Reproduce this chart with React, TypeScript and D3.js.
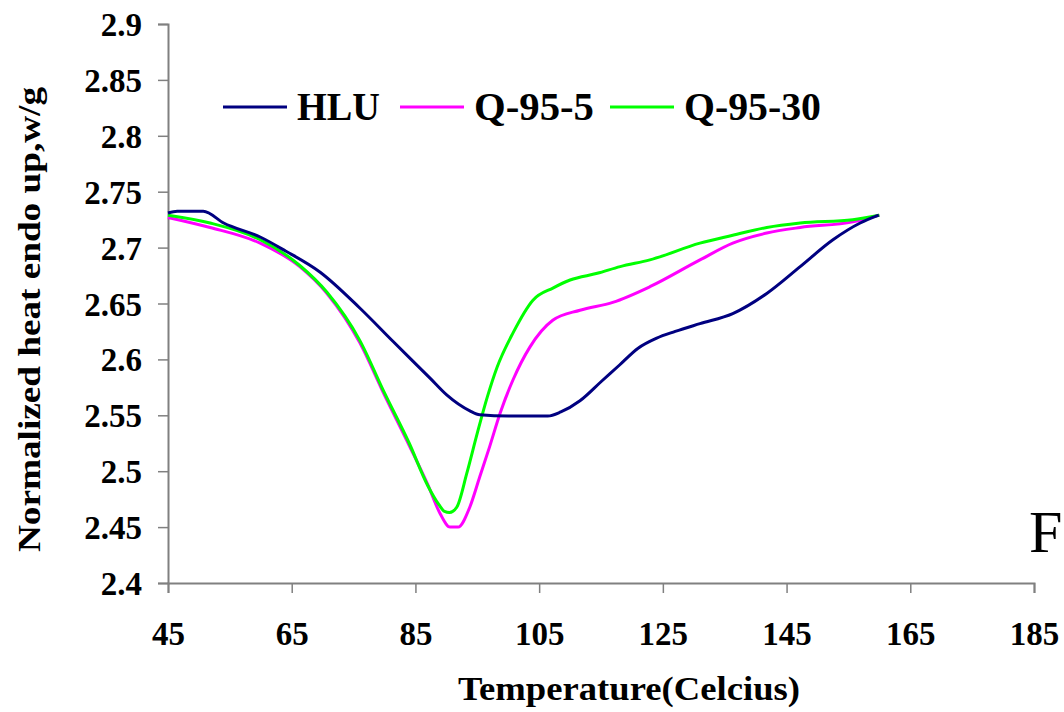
import React, { useEffect, useRef } from "react";
import * as d3 from "d3";

// temperatures (Celcius) and normalized heat flow
const hluTemp = [45, 46.5, 50.7, 54, 59.9, 64, 69.6, 76, 81.4, 87.4, 90.1, 93.8, 95.4, 100, 106.4, 108.5, 111.6, 115, 118, 121, 124, 127, 131, 136.3, 141.8, 147.2, 152.5, 156.9, 159.9];
const hluVal = [2.731, 2.7325, 2.7325, 2.722, 2.7095, 2.697, 2.678, 2.646, 2.616, 2.583, 2.568, 2.554, 2.5505, 2.5494, 2.5494, 2.553, 2.563, 2.58, 2.595, 2.61, 2.619, 2.625, 2.632, 2.641, 2.659, 2.683, 2.707, 2.722, 2.729];

const q5Temp = [45, 51.8, 59.9, 66.3, 70.7, 76, 80, 84, 87, 89, 90.6, 91.9, 93.8, 95.4, 97, 98.7, 100.8, 103.5, 107.2, 111.6, 116.9, 122.9, 131, 136.3, 141.8, 147.2, 155.7, 160];
const q5Val = [2.727, 2.718, 2.704, 2.683, 2.659, 2.615, 2.568, 2.523, 2.488, 2.462, 2.45, 2.45, 2.468, 2.495, 2.522, 2.552, 2.582, 2.611, 2.635, 2.644, 2.651, 2.665, 2.689, 2.704, 2.713, 2.718, 2.723, 2.729];

const q30Temp = [45, 51.8, 59.9, 66.3, 70.7, 76, 80, 84, 87, 88.8, 89.7, 90.5, 91.7, 93.3, 95, 96.6, 98.2, 100.8, 104, 107.3, 110, 114.4, 118.1, 122.9, 131, 136.3, 141.8, 147.2, 155.7, 160];
const q30Val = [2.729, 2.722, 2.707, 2.684, 2.66, 2.617, 2.57, 2.525, 2.487, 2.47, 2.464, 2.463, 2.468, 2.498, 2.534, 2.566, 2.593, 2.624, 2.653, 2.664, 2.671, 2.677, 2.683, 2.689, 2.704, 2.711, 2.718, 2.722, 2.725, 2.729];

const seriesNames = ["HLU", "Q-95-5", "Q-95-30"];
const seriesColors = ["#000080", "#ff00ff", "#00ff00"];

const xTicks = [45, 65, 85, 105, 125, 145, 165, 185];
const yTicks = [2.4, 2.45, 2.5, 2.55, 2.6, 2.65, 2.7, 2.75, 2.8, 2.85, 2.9];

export default function App() {
  const ref = useRef<SVGSVGElement | null>(null);

  useEffect(() => {
    var svg = d3.select(ref.current);
    svg.selectAll("*").remove();

    var font = "Liberation Serif";
    function boldText(sel: any, size: number) {
      sel
        .attr("font-family", font)
        .attr("font-weight", "bold")
        .attr("font-size", size)
        .attr("fill", "#000");
    }

    var x = d3.scaleLinear().domain([45, 185]).range([168, 1034]);
    var y = d3.scaleLinear().domain([2.4, 2.9]).range([583, 24]);

    // axes
    var xAxis = d3.axisBottom(x).tickValues(xTicks).tickSize(10).tickFormat(d3.format("d"));
    var gx = svg.append("g").attr("transform", "translate(0,583)").call(xAxis);
    var yAxis = d3.axisLeft(y).tickValues(yTicks).tickSize(10).tickFormat((d: any) => String(+d));
    var gy = svg.append("g").attr("transform", "translate(168,0)").call(yAxis);

    [gx, gy].forEach(function (g) {
      g.attr("font-family", font);
      g.select(".domain").attr("stroke", "#808080").attr("stroke-width", 2);
      g.selectAll(".tick line").attr("stroke", "#808080").attr("stroke-width", 1.5);
      boldText(g.selectAll(".tick text"), 33);
    });
    gx.selectAll(".tick text").attr("dy", null).attr("y", 62);
    gy.selectAll(".tick text").attr("x", -26).attr("dy", "0.35em");

    // curves
    var line = d3
      .line<[number, number]>()
      .x((d) => x(d[0]))
      .y((d) => y(d[1]))
      .curve(d3.curveMonotoneX);

    var sets = [
      d3.zip(hluTemp, hluVal),
      d3.zip(q5Temp, q5Val),
      d3.zip(q30Temp, q30Val)
    ];
    // draw magenta first, green over it, navy on top
    [1, 2, 0].forEach(function (i) {
      svg
        .append("path")
        .datum(sets[i] as [number, number][])
        .attr("fill", "none")
        .attr("stroke", seriesColors[i])
        .attr("stroke-width", 3)
        .attr("d", line);
    });

    // legend
    var legX = [223, 400, 610];
    var legW = [83, 120, 137];
    var legend = svg.append("g");
    seriesNames.forEach(function (name, i) {
      legend
        .append("line")
        .attr("x1", legX[i])
        .attr("x2", legX[i] + 64)
        .attr("y1", 107)
        .attr("y2", 107)
        .attr("stroke", seriesColors[i])
        .attr("stroke-width", 3);
      var t = legend
        .append("text")
        .attr("x", legX[i] + 74)
        .attr("y", 120)
        .attr("textLength", legW[i])
        .attr("lengthAdjust", "spacingAndGlyphs")
        .text(name);
      boldText(t, 40);
    });

    // axis titles
    var xt = svg
      .append("text")
      .attr("x", 458)
      .attr("y", 700)
      .attr("textLength", 342)
      .attr("lengthAdjust", "spacingAndGlyphs")
      .text("Temperature(Celcius)");
    boldText(xt, 33);

    var yt = svg
      .append("text")
      .attr("transform", "translate(40,552) rotate(-90)")
      .attr("textLength", 465)
      .attr("lengthAdjust", "spacingAndGlyphs")
      .text("Normalized heat endo up,w/g");
    boldText(yt, 31);

    // panel letter
    svg
      .append("text")
      .attr("x", 1029)
      .attr("y", 552)
      .attr("font-family", font)
      .attr("font-size", 60)
      .text("F");
  }, []);

  return (
    <svg
      ref={ref}
      width={1064}
      height={712}
      style={{ position: "absolute", left: 0, top: 0, background: "#fff" }}
    />
  );
}
